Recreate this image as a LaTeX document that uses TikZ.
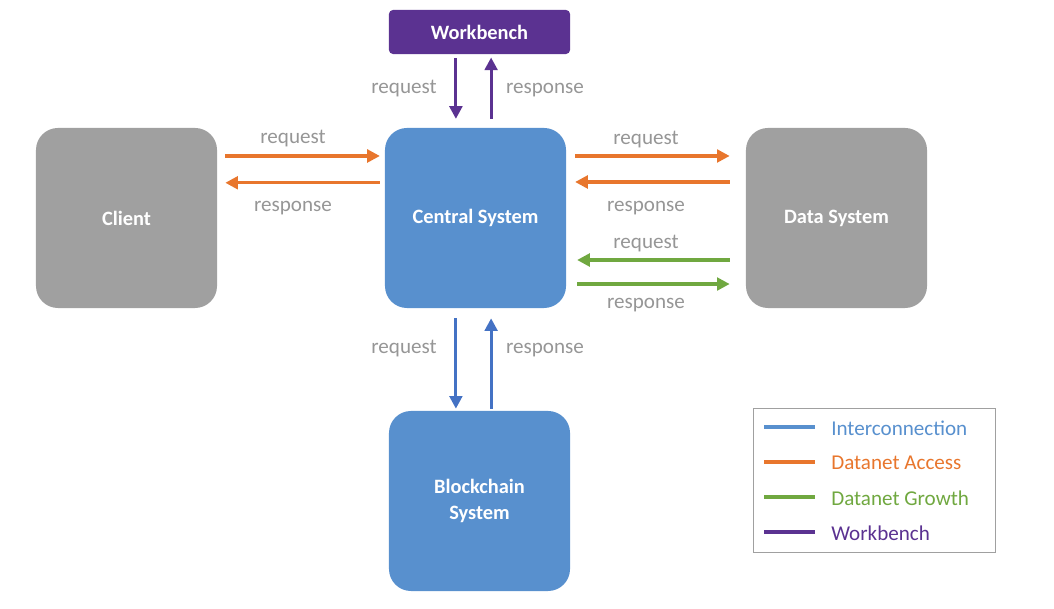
\documentclass[tikz,border=0pt]{standalone}
\usepackage{fontspec}
\setmainfont{Carlito}
\usepackage{tikz}
\usetikzlibrary{arrows.meta, positioning, calc}
\definecolor{boxblue}{RGB}{88,144,206}
\definecolor{boxgray}{RGB}{160,160,160}
\definecolor{wbpurple}{RGB}{91,50,145}
\definecolor{accorange}{RGB}{232,118,45}
\definecolor{growgreen}{RGB}{112,168,64}
\definecolor{linkblue}{RGB}{68,114,196}
\definecolor{labelgray}{RGB}{150,150,150}
\tikzset{
system/.style={
  rectangle, rounded corners=0.55cm,
  minimum width=4.525cm, minimum height=4.5cm,
  text=white, font=\fontsize{14.5}{17}\selectfont\bfseries,
  align=center, inner sep=0pt
},
flow/.style={
  line width=2.2pt,
  -{Triangle[length=9pt,width=9pt]}
},
lbl/.style={text=labelgray, font=\fontsize{15}{17}\selectfont},
legline/.style={line width=2.6pt},
legtext/.style={anchor=west, font=\fontsize{15}{17}\selectfont, inner sep=0pt},
}

\begin{document}
\begin{tikzpicture}[x=0.025cm, y=-0.025cm]
    \useasboundingbox (0,0) rectangle (1054,609);
    % systems
    \node[system, fill=wbpurple, rounded corners=0.1cm, minimum height=1.1cm] (wb) at (479.5,32) {Workbench};
    \node[system, fill=boxgray] (client) at (126.5,218) {Client};
    \node[system, fill=boxblue] (central) at (475.5,218) {Central System};
    \node[system, fill=boxgray] (data) at (836.5,218) {Data System};
    \node[system, fill=boxblue] (chain) at (479.5,501) {Blockchain\\[2pt]System};

    % workbench <-> central
    \draw[flow, wbpurple, shorten <=0.1cm, shorten >=0.22cm]
        ([xshift=-0.59cm]wb.south) -- ([xshift=-0.59cm]wb.south |- central.north);
    \draw[flow, wbpurple, shorten <=0.22cm, shorten >=0.08cm]
        ([xshift=0.29cm]wb.south |- central.north) -- ([xshift=0.29cm]wb.south);
    \node[lbl] (wbreq) at (404,89) {request};
    \node[lbl] (wbres) at (545,90) {response};

    % client <-> central
    \draw[flow, accorange, shorten <=0.2cm, shorten >=0.12cm]
        ([yshift=1.55cm]client.east) -- ([yshift=1.55cm]central.west);
    \draw[flow, accorange, shorten <=0.12cm, shorten >=0.2cm]
        ([yshift=0.88cm]central.west) -- ([yshift=0.88cm]client.east);
    \node[lbl] (clreq) at (293,139) {request};
    \node[lbl] (clres) at (293,208) {response};

    % central <-> data (access)
    \draw[flow, accorange, shorten <=0.22cm, shorten >=0.4cm]
        ([yshift=1.55cm]central.east) -- ([yshift=1.55cm]data.west);
    \draw[flow, accorange, shorten <=0.4cm, shorten >=0.22cm]
        ([yshift=0.9cm]data.west) -- ([yshift=0.9cm]central.east);
    \node[lbl] (dareq) at (646,140) {request};
    \node[lbl] (dares) at (646,208) {response};

    % central <-> data (growth)
    \draw[flow, growgreen, shorten <=0.4cm, shorten >=0.27cm]
        ([yshift=-1.05cm]data.west) -- ([yshift=-1.05cm]central.east);
    \draw[flow, growgreen, shorten <=0.27cm, shorten >=0.4cm]
        ([yshift=-1.65cm]central.east) -- ([yshift=-1.65cm]data.west);
    \node[lbl] (grreq) at (646,244) {request};
    \node[lbl] (grres) at (646,305) {response};

    % central <-> blockchain
    \draw[flow, linkblue, shorten <=0.25cm, shorten >=0.05cm]
        ([xshift=-0.59cm]chain.north |- central.south) -- ([xshift=-0.59cm]chain.north);
    \draw[flow, linkblue, shorten <=0.05cm, shorten >=0.25cm]
        ([xshift=0.29cm]chain.north) -- ([xshift=0.29cm]chain.north |- central.south);
    \node[lbl] (bcreq) at (404,349) {request};
    \node[lbl] (bcres) at (545,350) {response};

    % legend
    \draw[boxgray, line width=0.6pt] (753,408) rectangle (995,552);
    \draw[legline, boxblue] (764,427) -- (815,427);
    \node[legtext, text=boxblue] (legint) at (831,428) {Interconnection};
    \draw[legline, accorange] (764,462) -- (815,462);
    \node[legtext, text=accorange] (legacc) at (831,463) {Datanet Access};
    \draw[legline, growgreen] (764,497) -- (815,497);
    \node[legtext, text=growgreen] (leggrow) at (831,498) {Datanet Growth};
    \draw[legline, wbpurple] (764,532) -- (815,532);
    \node[legtext, text=wbpurple] (legwb) at (831,533) {Workbench};
\end{tikzpicture}
\end{document}
